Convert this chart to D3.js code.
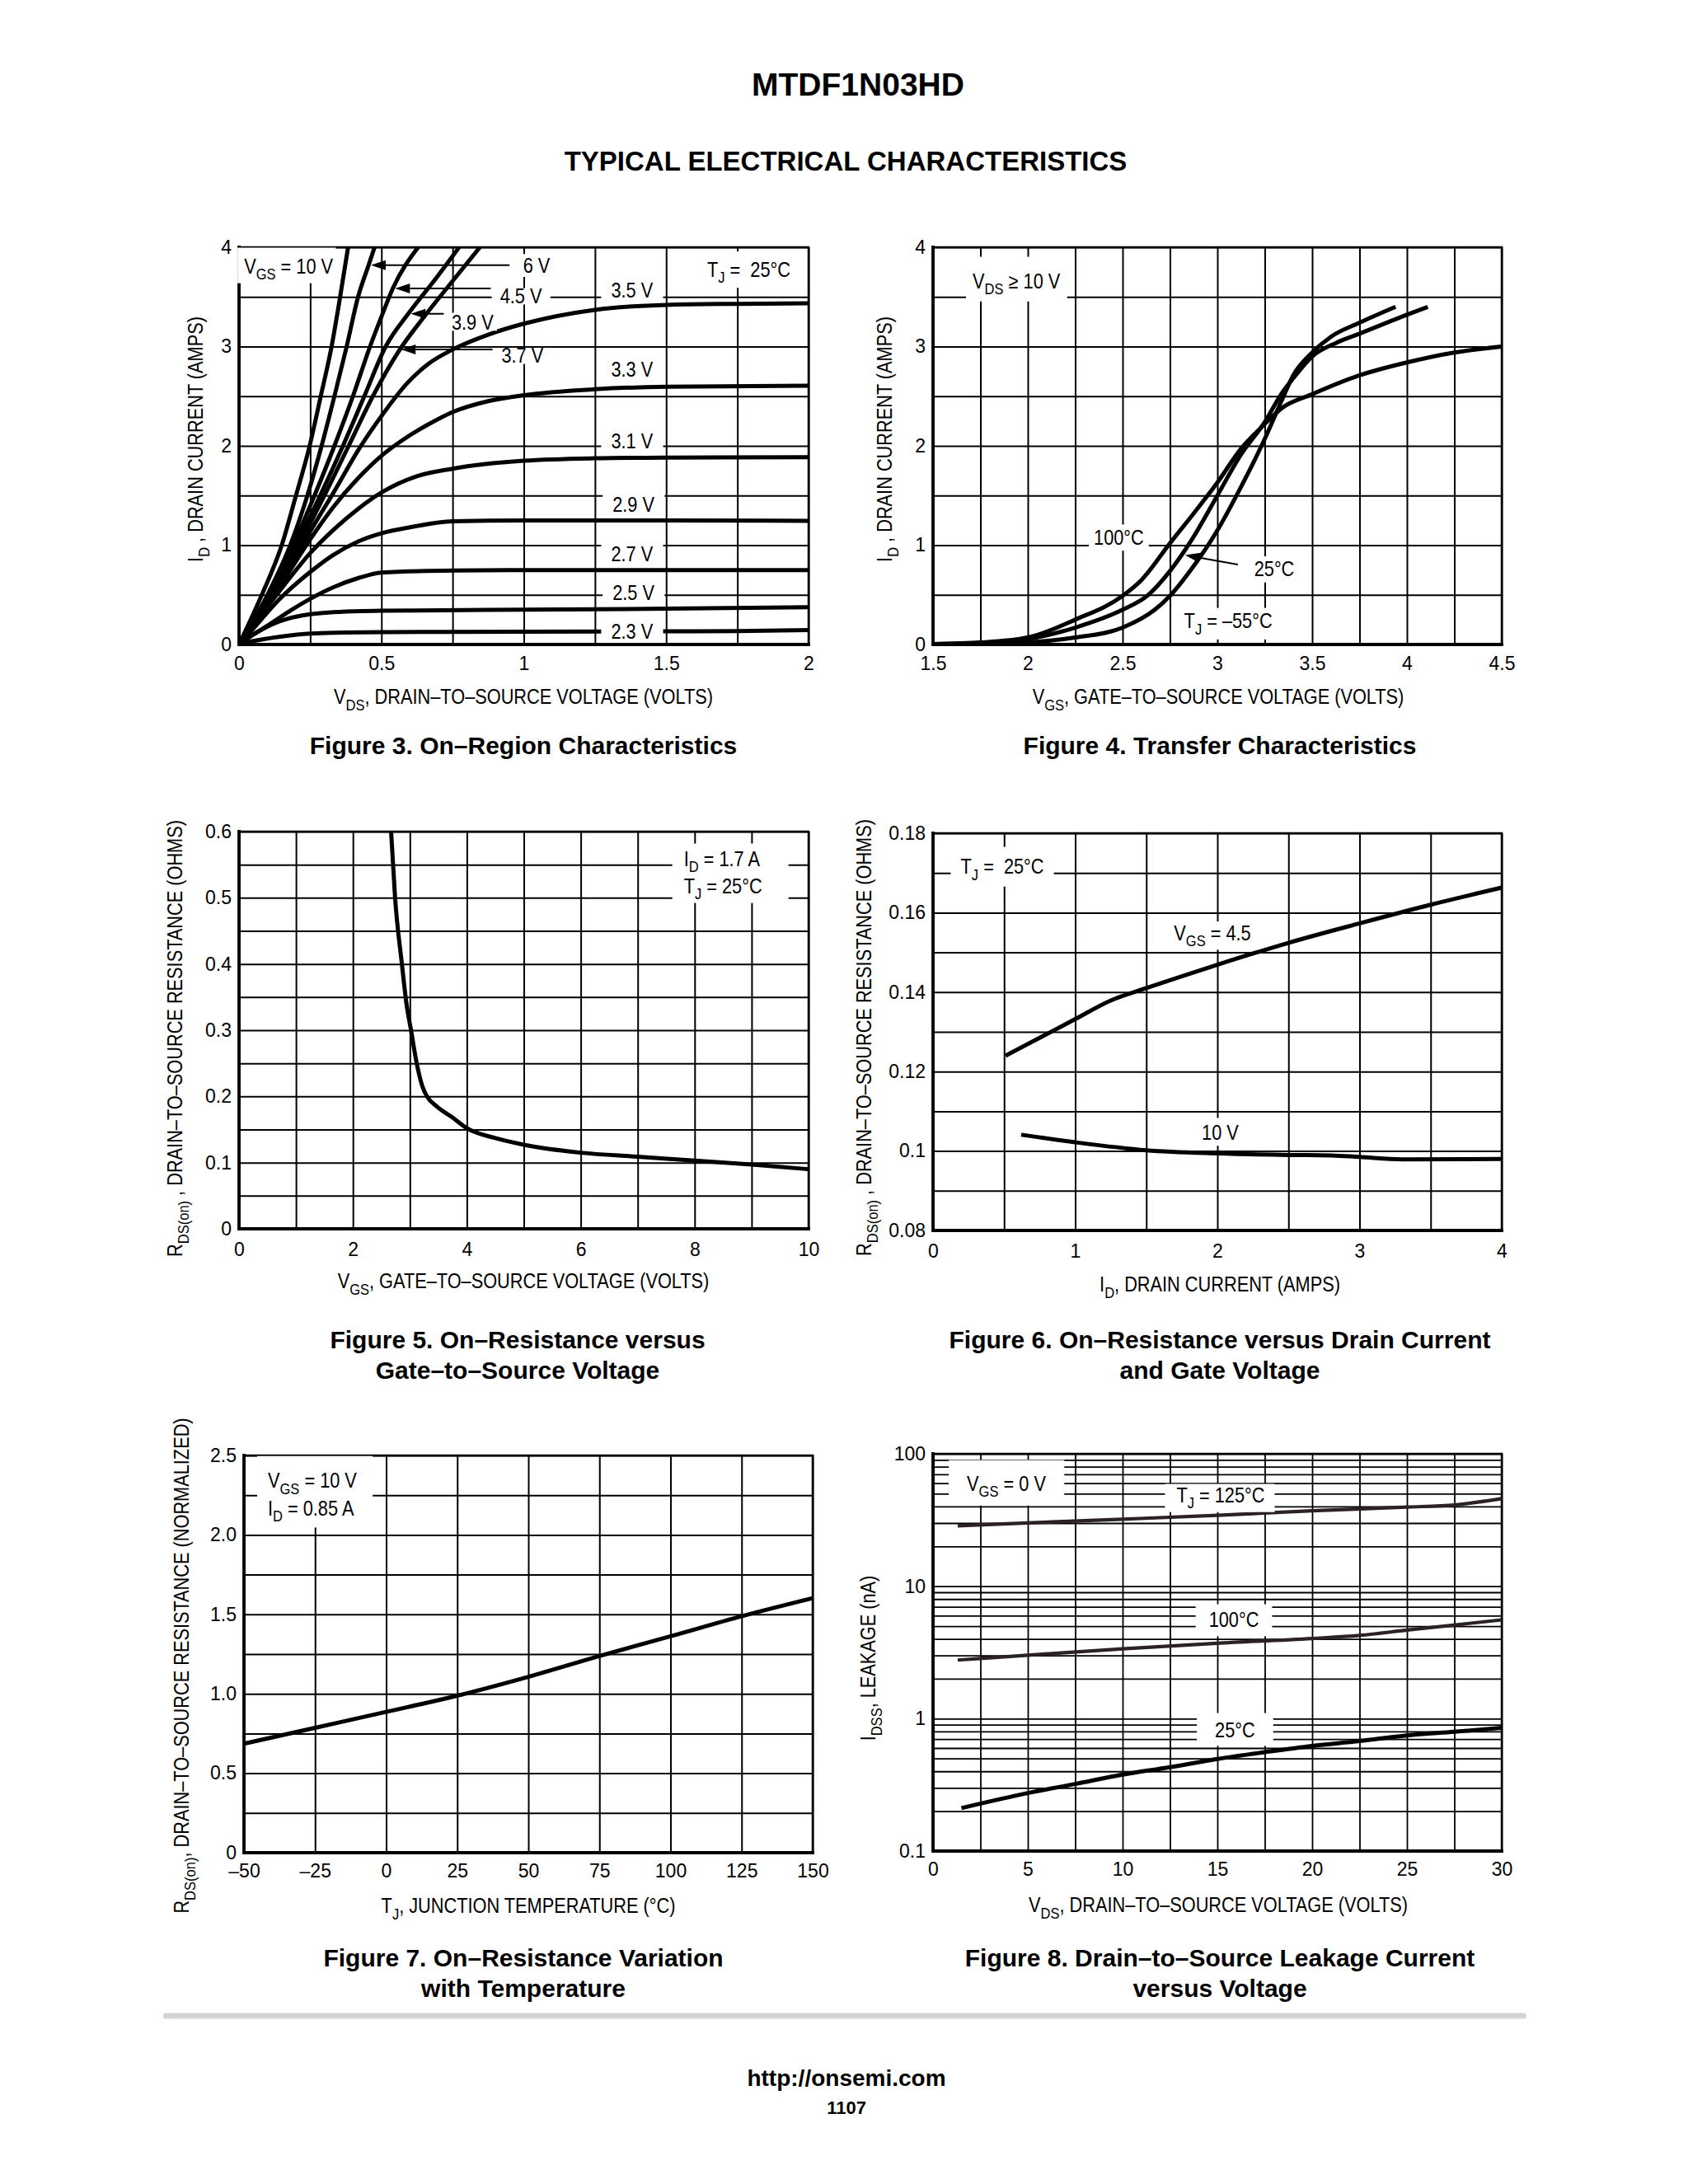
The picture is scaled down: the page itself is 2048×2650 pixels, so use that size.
<!DOCTYPE html>
<html><head><meta charset="utf-8">
<script src="https://cdn.jsdelivr.net/npm/d3@7"></script>
<style>
body{margin:0;background:#fff}
svg{display:block}
text{font-family:"Liberation Sans",Arial,Helvetica,sans-serif;fill:#000}
</style>
</head><body>
<svg id="c" width="2048" height="2650" viewBox="0 0 2048 2650"></svg>
<script>
// ================= DATA =================
// Figure 3: On-Region Characteristics  [VDS (V), ID (A)]
const f3_xTicks = [0, 0.5, 1, 1.5, 2];
const f3_xLabels = ["0", "0.5", "1", "1.5", "2"];
const f3_yTicks = [0, 1, 2, 3, 4];
const f3_yLabels = ["0", "1", "2", "3", "4"];
const f3_vgs10 = [[0,0],[0.08,0.5],[0.15,1.0],[0.2,1.5],[0.248,2.0],[0.287,2.5],[0.325,3.0],[0.355,3.5],[0.383,4.0]];
const f3_vgs6  = [[0,0],[0.1,0.5],[0.18,1.0],[0.24,1.5],[0.29,2.0],[0.335,2.5],[0.378,3.0],[0.418,3.5],[0.455,3.82],[0.476,4.0]];
const f3_vgs45 = [[0,0],[0.105,0.5],[0.19,1.0],[0.265,1.5],[0.335,2.0],[0.4,2.5],[0.46,3.0],[0.5,3.3],[0.54,3.585],[0.629,4.0]];
const f3_vgs39 = [[0,0],[0.11,0.5],[0.2,1.0],[0.285,1.5],[0.365,2.0],[0.44,2.5],[0.515,3.0],[0.594,3.33],[0.69,3.68],[0.773,4.0]];
const f3_vgs37 = [[0,0],[0.112,0.5],[0.21,1.0],[0.3,1.5],[0.385,2.0],[0.47,2.5],[0.56,2.95],[0.65,3.3],[0.75,3.66],[0.846,4.0]];
const f3_vgs35 = [[0,0],[0.06,0.26],[0.137,0.58],[0.25,1.14],[0.33,1.52],[0.426,1.99],[0.5,2.3],[0.59,2.63],[0.667,2.83],[0.75,2.97],[0.875,3.12],[1,3.23],[1.25,3.37],[1.5,3.42],[1.75,3.43],[2,3.435]];
const f3_vgs33 = [[0,0],[0.06,0.25],[0.14,0.57],[0.25,1.06],[0.33,1.38],[0.42,1.68],[0.5,1.9],[0.57,2.05],[0.667,2.22],[0.75,2.34],[0.875,2.45],[1,2.51],[1.25,2.57],[1.5,2.595],[2,2.605]];
const f3_vgs31 = [[0,0],[0.06,0.23],[0.14,0.53],[0.25,0.92],[0.33,1.15],[0.42,1.37],[0.5,1.53],[0.62,1.69],[0.75,1.77],[1,1.85],[1.25,1.875],[1.5,1.882],[2,1.885]];
const f3_vgs29 = [[0,0],[0.05,0.16],[0.14,0.45],[0.25,0.73],[0.33,0.9],[0.42,1.04],[0.5,1.12],[0.6,1.18],[0.75,1.24],[1,1.25],[1.5,1.25],[2,1.245]];
const f3_vgs27 = [[0,0],[0.05,0.1],[0.1,0.19],[0.185,0.35],[0.25,0.46],[0.33,0.575],[0.42,0.67],[0.5,0.725],[0.75,0.745],[1,0.75],[1.5,0.75],[2,0.75]];
const f3_vgs25 = [[0,0],[0.05,0.1],[0.14,0.23],[0.25,0.305],[0.4,0.335],[0.5,0.34],[1,0.35],[1.5,0.36],[2,0.375]];
const f3_vgs23 = [[0,0],[0.05,0.035],[0.14,0.077],[0.25,0.11],[0.5,0.125],[1,0.128],[1.5,0.132],[1.75,0.135],[2,0.145]];

// Figure 4: Transfer Characteristics [VGS (V), ID (A)]
const f4_xTicks = [1.5, 2, 2.5, 3, 3.5, 4, 4.5];
const f4_xLabels = ["1.5", "2", "2.5", "3", "3.5", "4", "4.5"];
const f4_yTicks = [0, 1, 2, 3, 4];
const f4_yLabels = ["0", "1", "2", "3", "4"];
const f4_t100 = [[1.5,0.005],[1.75,0.02],[2.0,0.07],[2.25,0.25],[2.5,0.49],[2.6,0.65],[2.75,1.02],[2.875,1.32],[3.0,1.63],[3.12,1.96],[3.25,2.22],[3.34,2.38],[3.5,2.52],[3.75,2.71],[4.0,2.84],[4.25,2.94],[4.5,3.0]];
const f4_t25  = [[1.5,0.005],[1.75,0.015],[2.0,0.055],[2.25,0.17],[2.5,0.35],[2.63,0.49],[2.75,0.74],[2.86,1.04],[3.0,1.5],[3.12,1.9],[3.25,2.24],[3.34,2.53],[3.4,2.68],[3.5,2.9],[3.63,3.04],[3.75,3.13],[4.0,3.32],[4.11,3.4]];
const f4_tm55 = [[1.5,0.0],[1.75,0.005],[2.0,0.02],[2.25,0.07],[2.5,0.17],[2.67,0.35],[2.75,0.49],[2.875,0.79],[3.0,1.15],[3.12,1.57],[3.25,2.07],[3.34,2.46],[3.4,2.71],[3.5,2.94],[3.6,3.1],[3.75,3.24],[3.94,3.4]];

// Figure 5: On-Resistance vs VGS [VGS (V), RDS(on) (ohm)]
const f5_xTicks = [0, 2, 4, 6, 8, 10];
const f5_xLabels = ["0", "2", "4", "6", "8", "10"];
const f5_yTicks = [0, 0.1, 0.2, 0.3, 0.4, 0.5, 0.6];
const f5_yLabels = ["0", "0.1", "0.2", "0.3", "0.4", "0.5", "0.6"];
const f5_rds = [[2.67,0.6],[2.74,0.5],[2.86,0.4],[2.94,0.34],[3.02,0.3],[3.12,0.25],[3.22,0.215],[3.3,0.2],[3.47,0.185],[3.75,0.168],[4,0.152],[4.5,0.137],[5,0.127],[6,0.115],[7,0.109],[8,0.103],[9,0.097],[10,0.09]];

// Figure 6: On-Resistance vs Drain Current [ID (A), RDS(on) (ohm)]
const f6_xTicks = [0, 1, 2, 3, 4];
const f6_xLabels = ["0", "1", "2", "3", "4"];
const f6_yTicks = [0.08, 0.10, 0.12, 0.14, 0.16, 0.18];
const f6_yLabels = ["0.08", "0.1", "0.12", "0.14", "0.16", "0.18"];
const f6_vgs45 = [[0.51,0.124],[0.75,0.1285],[1.0,0.1332],[1.25,0.1379],[1.5,0.141],[2.0,0.1469],[2.5,0.1524],[3.0,0.1573],[3.5,0.162],[4.0,0.1663]];
const f6_vgs10 = [[0.62,0.1041],[1.0,0.1022],[1.5,0.1002],[2.0,0.0994],[2.5,0.099],[2.8,0.0989],[3.0,0.0985],[3.3,0.0979],[4.0,0.098]];

// Figure 7: On-Resistance vs Temperature [TJ (C), normalized RDS(on)]
const f7_xTicks = [-50, -25, 0, 25, 50, 75, 100, 125, 150];
const f7_xLabels = ["\u201350", "\u201325", "0", "25", "50", "75", "100", "125", "150"];
const f7_yTicks = [0, 0.5, 1.0, 1.5, 2.0, 2.5];
const f7_yLabels = ["0", "0.5", "1.0", "1.5", "2.0", "2.5"];
const f7_rn = [[-50,0.686],[-25,0.786],[0,0.886],[25,0.988],[50,1.107],[75,1.238],[100,1.362],[125,1.488],[150,1.602]];

// Figure 8: Leakage Current vs Voltage [VDS (V), IDSS (nA)]
const f8_xTicks = [0, 5, 10, 15, 20, 25, 30];
const f8_xLabels = ["0", "5", "10", "15", "20", "25", "30"];
const f8_yTicks = [0.1, 1, 10, 100];
const f8_yLabels = ["0.1", "1", "10", "100"];
const f8_t125 = [[1.3,28.6],[5,30.1],[10,32.1],[15,34.3],[20,37.1],[25,39.6],[27.5,41.1],[30,45.9]];
const f8_t100 = [[1.3,2.77],[5,3.01],[10,3.37],[15,3.71],[20,4.03],[22.5,4.25],[25,4.66],[30,5.57]];
const f8_t25  = [[1.5,0.211],[5,0.274],[7.5,0.321],[10,0.378],[12.5,0.43],[15,0.496],[17.5,0.558],[20,0.622],[22.5,0.677],[25,0.747],[27.5,0.796],[30,0.851]];

// ================= DRAWING =================
const svg = d3.select("#c");
const FS = 23;          // tick labels
const FC = 25, SX = 0.87; // condensed chart text
let clipN = 0;

function rich(t, m, fs) {
  const parts = m.split(/(_\{[^}]*\})/);
  let down = false;
  parts.forEach(p => {
    if (!p) return;
    if (p.startsWith("_{")) {
      t.append("tspan").attr("font-size", fs * 0.76).attr("dy", fs * 0.3).text(p.slice(2, -1));
      down = true;
    } else {
      const ts = t.append("tspan").text(p);
      if (down) { ts.attr("dy", -fs * 0.3); down = false; }
    }
  });
}

// text whose visual (cap) centre is at (x, y); optional rotation and horizontal condensing
function txt(parent, x, y, m, o = {}) {
  const fs = o.fs || FC, sx = o.sx || 1;
  const g = parent.append("g").attr("transform",
    `translate(${x},${y})` + (o.rot ? ` rotate(${o.rot})` : "") + (sx !== 1 ? ` scale(${sx},1)` : ""));
  const t = g.append("text")
    .attr("x", 0).attr("y", fs * 0.36)
    .attr("text-anchor", o.anchor || "middle")
    .attr("font-size", fs)
    .attr("font-weight", o.bold ? "bold" : null)
    .style("white-space", "pre");
  rich(t, m, fs);
  return { g, t, box() { const b = t.node().getBBox(); return { x: x + b.x * sx, y: y + b.y, w: b.width * sx, h: b.height }; } };
}

function rangeStep(a, b, s) { const r = []; for (let v = a; v <= b + 1e-9; v += s) r.push(+v.toFixed(6)); return r; }

function panel(o) {
  const g = svg.append("g");
  const x = d3.scaleLinear().domain(o.xd).range([o.l, o.r]);
  const y = (o.log ? d3.scaleLog() : d3.scaleLinear()).domain(o.yd).range([o.b, o.t]);
  const w = o.r - o.l, h = o.b - o.t;
  const gw = o.gw || 2;
  g.append("g").attr("transform", `translate(0,${o.b})`)
    .call(d3.axisBottom(x).tickValues(o.xg).tickSize(-h).tickFormat(""))
    .call(s => { s.select(".domain").remove(); s.selectAll("line").attr("stroke", "#000").attr("stroke-width", gw); });
  g.append("g").attr("transform", `translate(${o.l},0)`)
    .call(d3.axisLeft(y).tickValues(o.yg).tickSize(-w).tickFormat(""))
    .call(s => { s.select(".domain").remove(); s.selectAll("line").attr("stroke", "#000").attr("stroke-width", gw); });
  g.append("path").attr("d", `M${o.l},${o.t}H${o.r}V${o.b}`)
    .attr("fill", "none").attr("stroke", "#000").attr("stroke-width", 2.5);
  g.append("path").attr("d", `M${o.l},${o.t}V${o.b}H${o.r}`)
    .attr("fill", "none").attr("stroke", "#000").attr("stroke-width", 3.8).attr("stroke-linecap", "square");
  // tick labels
  g.append("g").attr("transform", `translate(0,${o.b})`)
    .call(d3.axisBottom(x).tickValues(o.xt).tickFormat((d, i) => o.xl[i]).tickSize(0).tickPadding(o.xpad || 15))
    .call(s => { s.select(".domain").remove(); s.selectAll("text").attr("font-size", FS).attr("fill", "#000"); });
  g.append("g").attr("transform", `translate(${o.l},0)`)
    .call(d3.axisLeft(y).tickValues(o.yt).tickFormat((d, i) => o.yl[i]).tickSize(0).tickPadding(9))
    .call(s => { s.select(".domain").remove(); s.selectAll("text").attr("font-size", FS).attr("fill", "#000"); });
  // axis titles
  txt(g, o.xtx, o.xty, o.xtitle, { sx: SX });
  txt(g, o.ytx, o.yty, o.ytitle, { sx: SX, rot: -90 });
  // clip for curves
  const id = "clip" + (++clipN);
  svg.append("clipPath").attr("id", id).append("rect")
    .attr("x", o.l - 2).attr("y", o.t).attr("width", w + 6).attr("height", h + 2);
  const curves = g.append("g").attr("clip-path", `url(#${id})`);
  const notes = g.append("g");
  return { g, x, y, curves, notes };
}

function curve(p, data, sw = 5, col = "#000") {
  const line = d3.line().x(d => p.x(d[0])).y(d => p.y(d[1])).curve(d3.curveMonotoneX);
  p.curves.append("path").datum(data).attr("d", line)
    .attr("fill", "none").attr("stroke", col).attr("stroke-width", sw)
    .attr("stroke-linejoin", "round").attr("stroke-linecap", "butt");
}

// items: [{x,y,m,anchor}] in data coords, pad [l,r,t,b] or null
function note(p, items, pad) {
  const grp = p.notes.append("g");
  const ts = items.map(it => txt(grp, p.x(it.x), p.y(it.y), it.m, { anchor: it.anchor, sx: SX }));
  if (pad) {
    let x0 = 1e9, y0 = 1e9, x1 = -1e9, y1 = -1e9;
    ts.forEach(t => { const b = t.box(); x0 = Math.min(x0, b.x); y0 = Math.min(y0, b.y); x1 = Math.max(x1, b.x + b.w); y1 = Math.max(y1, b.y + b.h); });
    grp.insert("rect", ":first-child")
      .attr("x", x0 - pad[0]).attr("y", y0 - pad[2])
      .attr("width", x1 - x0 + pad[0] + pad[1]).attr("height", y1 - y0 + pad[2] + pad[3])
      .attr("fill", "#fff");
  }
}

function arrow(p, from, to) {
  const x1 = p.x(from[0]), y1 = p.y(from[1]), x2 = p.x(to[0]), y2 = p.y(to[1]);
  const a = Math.atan2(y2 - y1, x2 - x1), L = 18, W = 6;
  const bx = x2 - L * Math.cos(a), by = y2 - L * Math.sin(a);
  p.notes.append("line").attr("x1", x1).attr("y1", y1).attr("x2", bx).attr("y2", by)
    .attr("stroke", "#000").attr("stroke-width", 2);
  p.notes.append("path")
    .attr("d", `M${x2},${y2}L${bx + W * Math.sin(a)},${by - W * Math.cos(a)}L${bx - W * Math.sin(a)},${by + W * Math.cos(a)}Z`)
    .attr("fill", "#000");
}

// ---------- page header ----------
txt(svg, 1041, 102, "MTDF1N03HD", { fs: 39, bold: true });
txt(svg, 1026, 195, "TYPICAL ELECTRICAL CHARACTERISTICS", { fs: 33, bold: true });

// ---------- Figure 3 ----------
const p3 = panel({
  l: 290, r: 981, t: 300, b: 782, xd: [0, 2], yd: [0, 4],
  xg: rangeStep(0, 2, 0.25), yg: rangeStep(0, 4, 0.5),
  xt: f3_xTicks, xl: f3_xLabels, yt: f3_yTicks, yl: f3_yLabels,
  xtitle: "V_{DS}, DRAIN\u2013TO\u2013SOURCE VOLTAGE (VOLTS)", xtx: 635, xty: 845,
  ytitle: "I_{D} , DRAIN CURRENT (AMPS)", ytx: 237, yty: 533
});
[f3_vgs10, f3_vgs6, f3_vgs45, f3_vgs39, f3_vgs37, f3_vgs35, f3_vgs33, f3_vgs31, f3_vgs29, f3_vgs27, f3_vgs25, f3_vgs23].forEach(d => curve(p3, d));
note(p3, [{ x: 0.174, y: 3.81, m: "V_{GS} = 10 V" }], [8, 3, 9, 0]);
note(p3, [{ x: 1.045, y: 3.82, m: "6 V" }], [6, 6, 0, 0]);
note(p3, [{ x: 0.99, y: 3.51, m: "4.5 V" }], [10, 10, -4, -4]);
note(p3, [{ x: 0.82, y: 3.245, m: "3.9 V" }], [4, 4, -2, -4]);
note(p3, [{ x: 0.995, y: 2.91, m: "3.7 V" }], [10, 10, -4, -4]);
note(p3, [{ x: 1.38, y: 3.57, m: "3.5 V" }], [12, 12, 0, -4]);
note(p3, [{ x: 1.38, y: 2.77, m: "3.3 V" }], [12, 12, 0, 0]);
note(p3, [{ x: 1.38, y: 2.05, m: "3.1 V" }], [12, 12, 0, -2]);
note(p3, [{ x: 1.385, y: 1.41, m: "2.9 V" }], [12, 12, 0, 0]);
note(p3, [{ x: 1.38, y: 0.91, m: "2.7 V" }], [12, 12, 0, 0]);
note(p3, [{ x: 1.385, y: 0.52, m: "2.5 V" }], [12, 12, 0, 0]);
note(p3, [{ x: 1.38, y: 0.135, m: "2.3 V" }], [12, 12, 0, 0]);
note(p3, [{ x: 1.79, y: 3.78, m: "T_{J} =  25\u00B0C" }], [8, 8, 8, 2]);
arrow(p3, [0.95, 3.82], [0.463, 3.82]);
arrow(p3, [0.884, 3.585], [0.548, 3.585]);
arrow(p3, [0.719, 3.33], [0.603, 3.33]);
arrow(p3, [0.89, 2.97], [0.568, 2.97]);
txt(svg, 635, 904, "Figure 3. On\u2013Region Characteristics", { fs: 30, bold: true });

// ---------- Figure 4 ----------
const p4 = panel({
  l: 1132, r: 1822, t: 300, b: 782, xd: [1.5, 4.5], yd: [0, 4],
  xg: rangeStep(1.5, 4.5, 0.25), yg: rangeStep(0, 4, 0.5),
  xt: f4_xTicks, xl: f4_xLabels, yt: f4_yTicks, yl: f4_yLabels,
  xtitle: "V_{GS}, GATE\u2013TO\u2013SOURCE VOLTAGE (VOLTS)", xtx: 1478, xty: 845,
  ytitle: "I_{D} , DRAIN CURRENT (AMPS)", ytx: 1073, yty: 533
});
[f4_t100, f4_t25, f4_tm55].forEach(d => curve(p4, d));
note(p4, [{ x: 1.94, y: 3.66, m: "V_{DS} \u2265 10 V" }], [8, 8, 16, 4]);
note(p4, [{ x: 2.48, y: 1.08, m: "100\u00B0C" }], [6, 6, 2, 2]);
note(p4, [{ x: 3.30, y: 0.76, m: "25\u00B0C" }], [6, 6, 2, 2]);
note(p4, [{ x: 3.057, y: 0.24, m: "T_{J} = \u201355\u00B0C" }], [6, 6, 2, 2]);
arrow(p4, [3.108, 0.805], [2.83, 0.9]);
txt(svg, 1480, 904, "Figure 4. Transfer Characteristics", { fs: 30, bold: true });

// ---------- Figure 5 ----------
const p5 = panel({
  l: 290, r: 981, t: 1009, b: 1491, xd: [0, 10], yd: [0, 0.6],
  xg: rangeStep(0, 10, 1), yg: rangeStep(0, 0.6, 0.05),
  xt: f5_xTicks, xl: f5_xLabels, yt: f5_yTicks, yl: f5_yLabels, xpad: 17,
  xtitle: "V_{GS}, GATE\u2013TO\u2013SOURCE VOLTAGE (VOLTS)", xtx: 635, xty: 1554,
  ytitle: "R_{DS(on)} , DRAIN\u2013TO\u2013SOURCE RESISTANCE (OHMS)", ytx: 212, yty: 1260
});
curve(p5, f5_rds);
note(p5, [{ x: 7.81, y: 0.559, m: "I_{D} = 1.7 A", anchor: "start" }, { x: 7.81, y: 0.518, m: "T_{J} = 25\u00B0C", anchor: "start" }], [14, 32, 5, 0]);
txt(svg, 628, 1625, "Figure 5. On\u2013Resistance versus", { fs: 30, bold: true });
txt(svg, 628, 1662, "Gate\u2013to\u2013Source Voltage", { fs: 30, bold: true });

// ---------- Figure 6 ----------
const p6 = panel({
  l: 1132, r: 1822, t: 1011, b: 1493, xd: [0, 4], yd: [0.08, 0.18],
  xg: rangeStep(0, 4, 0.5), yg: rangeStep(0.08, 0.18, 0.01),
  xt: f6_xTicks, xl: f6_xLabels, yt: f6_yTicks, yl: f6_yLabels, xpad: 17,
  xtitle: "I_{D}, DRAIN CURRENT (AMPS)", xtx: 1480, xty: 1558,
  ytitle: "R_{DS(on)} , DRAIN\u2013TO\u2013SOURCE RESISTANCE (OHMS)", ytx: 1048, yty: 1259
});
curve(p6, f6_vgs45);
curve(p6, f6_vgs10);
note(p6, [{ x: 0.487, y: 0.1717, m: "T_{J} =  25\u00B0C" }], [12, 12, 10, 4]);
note(p6, [{ x: 1.965, y: 0.155, m: "V_{GS} = 4.5" }], [6, 6, 0, 0]);
note(p6, [{ x: 2.02, y: 0.1047, m: "10 V" }], [6, 6, 4, 2]);
txt(svg, 1480, 1625, "Figure 6. On\u2013Resistance versus Drain Current", { fs: 30, bold: true });
txt(svg, 1480, 1662, "and Gate Voltage", { fs: 30, bold: true });

// ---------- Figure 7 ----------
const p7 = panel({
  l: 296, r: 986, t: 1766, b: 2248, xd: [-50, 150], yd: [0, 2.5],
  xg: rangeStep(-50, 150, 25), yg: rangeStep(0, 2.5, 0.25),
  xt: f7_xTicks, xl: f7_xLabels, yt: f7_yTicks, yl: f7_yLabels, xpad: 14,
  xtitle: "T_{J}, JUNCTION TEMPERATURE (\u00B0C)", xtx: 641, xty: 2312,
  ytitle: "R_{DS(on)}, DRAIN\u2013TO\u2013SOURCE RESISTANCE (NORMALIZED)", ytx: 220, yty: 2021
});
curve(p7, f7_rn);
note(p7, [{ x: -41.6, y: 2.344, m: "V_{GS} = 10 V", anchor: "start" }, { x: -41.6, y: 2.17, m: "I_{D} = 0.85 A", anchor: "start" }], [13, 19, 16, 3]);
txt(svg, 635, 2375, "Figure 7. On\u2013Resistance Variation", { fs: 30, bold: true });
txt(svg, 635, 2412, "with Temperature", { fs: 30, bold: true });

// ---------- Figure 8 ----------
const f8_grid = [];
[0.1, 1, 10].forEach(d => { for (let k = 1; k <= 9; k++) f8_grid.push(+(d * k).toPrecision(3)); });
f8_grid.push(100);
const p8 = panel({
  l: 1132, r: 1822, t: 1764, b: 2246, xd: [0, 30], yd: [0.1, 100], log: true, gw: 1.8,
  xg: rangeStep(0, 30, 2.5), yg: f8_grid,
  xt: f8_xTicks, xl: f8_xLabels, yt: f8_yTicks, yl: f8_yLabels, xpad: 14,
  xtitle: "V_{DS}, DRAIN\u2013TO\u2013SOURCE VOLTAGE (VOLTS)", xtx: 1478, xty: 2311,
  ytitle: "I_{DSS}, LEAKAGE (nA)", ytx: 1053, yty: 2012
});
curve(p8, f8_t125, 4.2, "#2a2226");
curve(p8, f8_t100, 4.2, "#2a2226");
curve(p8, f8_t25, 5, "#000");
note(p8, [{ x: 3.87, y: 59.7, m: "V_{GS} = 0 V" }], [22, 22, 15, 6]);
note(p8, [{ x: 15.17, y: 48.9, m: "T_{J} = 125\u00B0C" }], [14, 12, 0, 0]);
note(p8, [{ x: 15.87, y: 5.61, m: "100\u00B0C" }], [16, 16, 5, 6]);
note(p8, [{ x: 15.93, y: 0.822, m: "25\u00B0C" }], [22, 22, 7, 5]);
txt(svg, 1480, 2375, "Figure 8. Drain\u2013to\u2013Source Leakage Current", { fs: 30, bold: true });
txt(svg, 1480, 2412, "versus Voltage", { fs: 30, bold: true });

// ---------- footer ----------
svg.append("rect").attr("x", 198).attr("y", 2442.5).attr("width", 1654).attr("height", 7).attr("rx", 3.5).attr("fill", "#d4d4d4");
txt(svg, 1027, 2521, "http://onsemi.com", { fs: 28, bold: true });
txt(svg, 1027, 2557, "1107", { fs: 22, bold: true });
</script>
</body></html>
